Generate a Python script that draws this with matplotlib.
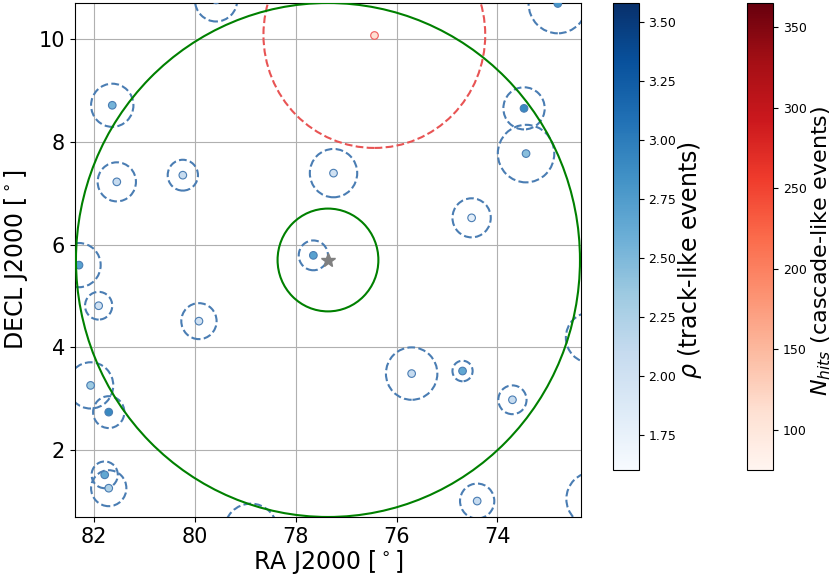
import numpy as np
import matplotlib
matplotlib.use("Agg")
import matplotlib.pyplot as plt
from matplotlib.patches import Circle

# source position
src_ra, src_dec = 77.36, 5.70
r_big, r_small = 5.0, 1.0

# track-like events: position, angular error radius, rho
trk_ra = [81.64, 81.55, 80.24, 77.25, 77.65, 82.30, 72.80, 73.47, 73.43, 74.51,
          81.91, 79.92, 82.07, 81.71, 81.79, 81.71, 75.70, 74.69, 73.70, 74.40,
          79.58, 78.89, 72.15, 72.11]
trk_dec = [8.71, 7.22, 7.35, 7.39, 5.79, 5.60, 10.69, 8.65, 7.77, 6.52,
           4.81, 4.51, 3.26, 2.74, 1.52, 1.26, 3.49, 3.54, 2.98, 1.01,
           10.76, 0.43, 4.19, 1.05]
trk_err = [0.42, 0.38, 0.30, 0.47, 0.29, 0.43, 0.58, 0.41, 0.56, 0.38,
           0.27, 0.35, 0.45, 0.31, 0.26, 0.35, 0.51, 0.20, 0.28, 0.34,
           0.42, 0.53, 0.49, 0.52]
trk_rho = [2.55, 2.10, 2.10, 2.00, 2.70, 2.70, 2.80, 2.90, 2.45, 1.80,
           2.00, 2.00, 2.35, 2.90, 2.65, 2.25, 2.10, 2.65, 2.10, 2.10,
           2.0, 2.0, 2.0, 2.0]

# cascade-like events
csc_ra = [76.44]
csc_dec = [10.08]
csc_err = [2.2]
csc_nhits = [110]

fig = plt.figure(figsize=(8.32, 5.75), dpi=100)
ax = fig.add_axes([0.0901, 0.1009, 0.6082, 0.8939])
cax1 = fig.add_axes([0.7364, 0.1826, 0.0313, 0.8122])
cax2 = fig.add_axes([0.8982, 0.1826, 0.0313, 0.8122])

ax.grid(True, color='#b0b0b0', lw=0.8)

for ra, dec, err in zip(trk_ra, trk_dec, trk_err):
    ax.add_patch(Circle((ra, dec), err, fill=False, ls='--', lw=1.5,
                        ec='#4a7db3', zorder=2))
for ra, dec, err in zip(csc_ra, csc_dec, csc_err):
    ax.add_patch(Circle((ra, dec), err, fill=False, ls='--', lw=1.5,
                        ec='#e85454', zorder=2))

sc1 = ax.scatter(trk_ra, trk_dec, c=trk_rho, cmap='Blues', vmin=1.60, vmax=3.58,
                 s=30, edgecolors='#4a7db3', linewidths=0.8, zorder=3)
sc2 = ax.scatter(csc_ra, csc_dec, c=csc_nhits, cmap='Reds', vmin=75, vmax=365,
                 s=30, edgecolors='#ef5a5a', linewidths=0.8, zorder=3)

ax.add_patch(Circle((src_ra, src_dec), r_big, fill=False, ec='green', lw=1.5, zorder=4))
ax.add_patch(Circle((src_ra, src_dec), r_small, fill=False, ec='green', lw=1.5, zorder=4))
ax.plot(src_ra, src_dec, marker='*', color='gray', ms=10, ls='none', zorder=5)

ax.set_xlim(src_ra + 5.02, src_ra - 5.02)
ax.set_ylim(src_dec - 5.0, src_dec + 5.0)
ax.set_xticks([82, 80, 78, 76, 74])
ax.set_yticks([2, 4, 6, 8, 10])
ax.tick_params(labelsize=15)
ax.set_xlabel(r'RA J2000 [$^\circ$]', fontsize=17, labelpad=1)
ax.set_ylabel(r'DECL J2000 [$^\circ$]', fontsize=17, labelpad=6)

cb1 = fig.colorbar(sc1, cax=cax1)
cb1.set_ticks([1.75, 2.00, 2.25, 2.50, 2.75, 3.00, 3.25, 3.50])
cb1.ax.tick_params(labelsize=9)
cb1.set_label(r'$\rho$ (track-like events)', fontsize=17, labelpad=0)
cb1.ax.yaxis.label.set_y(0.45)

cb2 = fig.colorbar(sc2, cax=cax2)
cb2.set_ticks([100, 150, 200, 250, 300, 350])
cb2.ax.tick_params(labelsize=9)
cb2.set_label(r'$N_{hits}$ (cascade-like events)', fontsize=16, labelpad=2)
cb2.ax.yaxis.label.set_y(0.47)

fig.savefig('out.png', dpi=100)
